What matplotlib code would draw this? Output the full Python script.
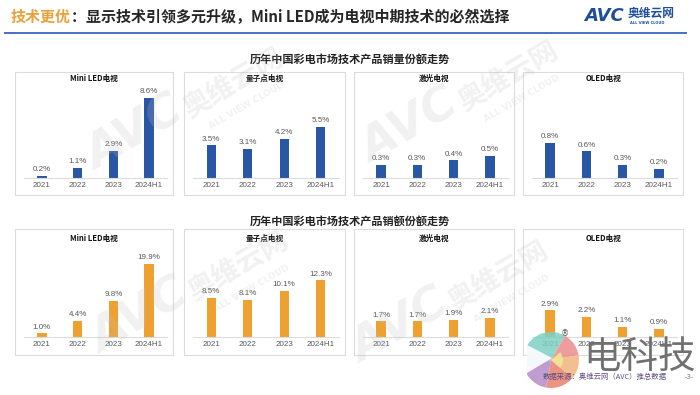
import matplotlib
matplotlib.use('Agg')
import matplotlib.pyplot as plt
from matplotlib.patches import Rectangle, Wedge, Polygon

# ---------------- data ----------------
years = ['2021', '2022', '2023', '2024H1']
techs = ['Mini LED电视', '量子点电视', '激光电视', 'OLED电视']
vol_mini = [0.2, 1.1, 2.9, 8.6]
vol_qd = [3.5, 3.1, 4.2, 5.5]
vol_laser = [0.3, 0.3, 0.4, 0.5]
vol_oled = [0.8, 0.6, 0.3, 0.2]
val_mini = [1.0, 4.4, 9.8, 19.9]
val_qd = [8.5, 8.1, 10.1, 12.3]
val_laser = [1.7, 1.7, 1.9, 2.1]
val_oled = [2.9, 2.2, 1.1, 0.9]
vol_series = [vol_mini, vol_qd, vol_laser, vol_oled]
val_series = [val_mini, val_qd, val_laser, val_oled]
title_hl = '技术更优'
title_rest = '：显示技术引领多元升级，Mini LED成为电视中期技术的必然选择'
sec_vol = '历年中国彩电市场技术产品销量份额走势'
sec_val = '历年中国彩电市场技术产品销额份额走势'
source = '数据来源：奥维云网（AVC）推总数据'

CJK = ['Noto Sans CJK SC', 'DejaVu Sans']
plt.rcParams['font.family'] = CJK

W, H = 700, 395
BLUE = '#2A56A6'
ORANGE = '#EEA030'
GRAY = '#595959'
BORDER = '#DCDCDC'

fig = plt.figure(figsize=(W / 100, H / 100), dpi=100)
fig.patch.set_facecolor('white')

def fx(x):
    return x / W

def fy(y):
    return 1 - y / H

# background pixel axes (boxes, titles)
bg = fig.add_axes([0, 0, 1, 1], zorder=0)
bg.set_xlim(0, W); bg.set_ylim(H, 0); bg.axis('off')
# overlay pixel axes (watermarks, logos)
ov = fig.add_axes([0, 0, 1, 1], zorder=10)
ov.set_xlim(0, W); ov.set_ylim(H, 0); ov.axis('off')
ov.patch.set_alpha(0)

# header
bg.plot([4, 687], [33, 33], color='#4472C4', lw=1.4, solid_capstyle='butt')
t1 = fig.text(fx(11), fy(17), title_hl, color='#E9A23B', fontsize=10.8,
              fontweight='bold', va='center', ha='left')
fig.canvas.draw()
bb = t1.get_window_extent()
fig.text(bb.x1 / W, fy(17), title_rest, color='#262626', fontsize=10.8,
         fontweight='bold', va='center', ha='left')

# AVC logo
bg.text(584, 16, 'AVC', color='#1F4E9C', fontsize=13, fontweight='bold',
        style='italic', family='DejaVu Sans', va='center', ha='left')
bg.text(628, 13, '奥维云网', color='#1F4E9C', fontsize=8.5, fontweight='bold',
        va='center', ha='left')
bg.text(630, 23.5, 'ALL VIEW CLOUD', color='#1F4E9C', fontsize=2.6,
        fontweight='bold', family='DejaVu Sans', va='center', ha='left')

# section titles
bg.text(350, 59, sec_vol, fontsize=8, fontweight='bold', color='#222222',
        ha='center', va='center')
bg.text(350, 221, sec_val, fontsize=8, fontweight='bold', color='#222222',
        ha='center', va='center')

boxes_x = [(15, 173), (184, 345), (354, 514), (523, 683)]
rows = [
    dict(box=(72, 195), base=178, top=85, title_y=78, series=vol_series,
         color=BLUE, ylims=[10, 10, 2.1, 2.1]),
    dict(box=(229, 355), base=337, top=245, title_y=238, series=val_series,
         color=ORANGE, ylims=[25, 20, 10, 10]),
]

for row in rows:
    y0, y1 = row['box']
    for i, (bl, br) in enumerate(boxes_x):
        bg.add_patch(Rectangle((bl, y0), br - bl, y1 - y0, fill=False,
                               edgecolor=BORDER, lw=0.8))
        bg.text((bl + br) / 2, row['title_y'], techs[i], fontsize=5.5,
                fontweight='bold', color='#111111', ha='center', va='center')
        al, ar = bl + 9, br - 6
        ax = fig.add_axes([fx(al), fy(row['base']), (ar - al) / W,
                           (row['base'] - row['top']) / H], zorder=2)
        ax.patch.set_alpha(0)
        vals = row['series'][i]
        bars = ax.bar(years, vals, width=0.26, color=row['color'])
        ax.bar_label(bars, labels=[f'{v:.1f}%' for v in vals], padding=2,
                     fontsize=5.8, color=GRAY, family='Liberation Sans')
        ax.set_xlim(-0.5, 3.5)
        ax.set_ylim(0, row['ylims'][i])
        for s in ['top', 'right', 'left']:
            ax.spines[s].set_visible(False)
        ax.spines['bottom'].set_color(BORDER)
        ax.spines['bottom'].set_linewidth(0.8)
        ax.set_yticks([])
        ax.tick_params(axis='x', length=0, pad=3, labelsize=5.8,
                       labelcolor=GRAY)
        for lab in ax.get_xticklabels():
            lab.set_family('Liberation Sans')

# faint watermarks
def watermark(cx, cy, s=1.0):
    kw = dict(color='#c0c0c0', alpha=0.22, rotation=30, ha='center',
              va='center')
    ov.text(cx, cy, 'AVC', fontsize=34 * s, fontweight='bold', style='italic',
            family='DejaVu Sans', **kw)
    ov.text(cx + 98, cy - 52, '奥维云网', fontsize=20 * s, fontweight='bold', **kw)
    ov.text(cx + 112, cy - 30, 'ALL VIEW CLOUD', fontsize=6.5 * s,
            fontweight='bold', family='DejaVu Sans', **kw)

watermark(135, 135)
watermark(410, 128)
watermark(140, 318)
watermark(400, 328)

# bottom-right decoration logo (D shape)
cx, cy, r = 551, 360, 28
clip = Rectangle((527, 320), 80, 80, transform=ov.transData)
wedges = [(200, 300, '#7ED0C2'), (300, 350, '#EA8C8A'), (350, 400, '#F3B47C'),
          (40, 100, '#E9826F'), (100, 160, '#B48CC8'), (160, 200, '#88B8E0')]
for a0, a1, c in wedges:
    w = Wedge((cx, cy), r, a0, a1, facecolor=c, edgecolor='none', alpha=0.85)
    ov.add_patch(w)
    w.set_clip_path(clip)
ov.add_patch(Polygon([(527, 345), (552, 358), (527, 373)], closed=True,
                     facecolor='white', edgecolor='none', alpha=0.9))
ov.add_patch(Wedge((cx, cy), 12, 320, 40, facecolor='#F2EC98',
                   edgecolor='none', alpha=0.8))
ov.text(565, 334, '®', fontsize=6, color='#555555', ha='center', va='center',
        family='DejaVu Sans')
ov.text(640, 357, '电科技', fontsize=27, color='#707070', fontweight='light',
        ha='center', va='center')
ov.text(543, 377, source, fontsize=5.3, color='#5E4E80', ha='left',
        va='center')
ov.text(689, 377, '-3-', fontsize=5, color='#777777', ha='center',
        va='center', family='DejaVu Sans')

fig.savefig('out.png', dpi=100, facecolor='white')
